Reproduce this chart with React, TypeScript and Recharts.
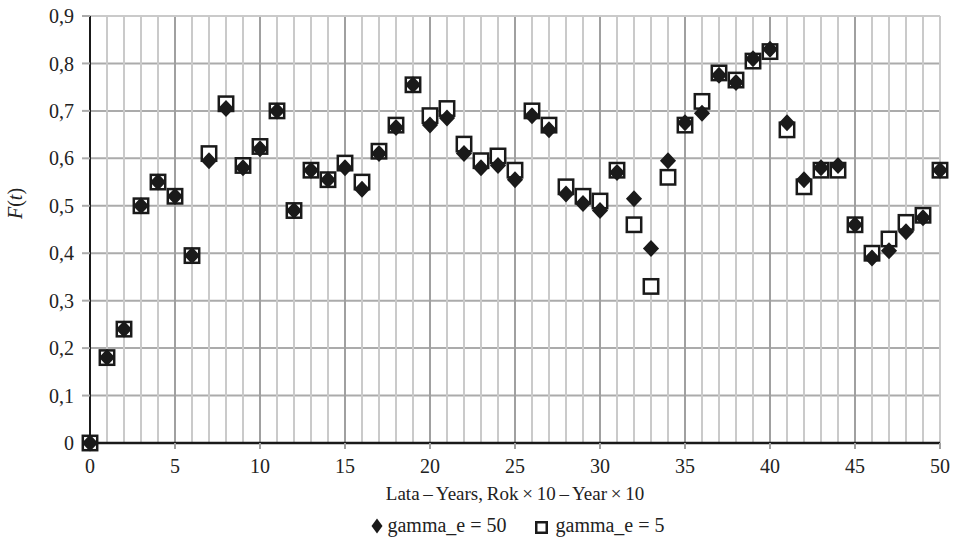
import React from "react";
import {
  ScatterChart,
  Scatter,
  XAxis,
  YAxis,
  CartesianGrid,
  ReferenceLine,
  Legend,
} from "recharts";

const years = [
  0, 1, 2, 3, 4, 5, 6, 7, 8, 9, 10, 11, 12, 13, 14, 15, 16, 17, 18, 19, 20, 21, 22, 23, 24, 25,
  26, 27, 28, 29, 30, 31, 32, 33, 34, 35, 36, 37, 38, 39, 40, 41, 42, 43, 44, 45, 46, 47, 48, 49, 50,
];

const gamma50 = [
  0, 0.18, 0.24, 0.5, 0.55, 0.52, 0.395, 0.595, 0.705, 0.58, 0.62, 0.7, 0.49, 0.575, 0.555, 0.58,
  0.535, 0.61, 0.665, 0.755, 0.67, 0.685, 0.61, 0.58, 0.585, 0.555, 0.69, 0.66, 0.525, 0.505, 0.49,
  0.57, 0.515, 0.41, 0.595, 0.675, 0.695, 0.775, 0.76, 0.81, 0.83, 0.675, 0.555, 0.58, 0.585, 0.46,
  0.39, 0.405, 0.445, 0.475, 0.575,
];

const gamma5 = [
  0, 0.18, 0.24, 0.5, 0.55, 0.52, 0.395, 0.61, 0.715, 0.585, 0.625, 0.7, 0.49, 0.575, 0.555, 0.59,
  0.55, 0.615, 0.67, 0.755, 0.69, 0.705, 0.63, 0.595, 0.605, 0.575, 0.7, 0.67, 0.54, 0.52, 0.51,
  0.575, 0.46, 0.33, 0.56, 0.67, 0.72, 0.78, 0.765, 0.805, 0.825, 0.66, 0.54, 0.575, 0.575, 0.46,
  0.4, 0.43, 0.465, 0.48, 0.575,
];

const yTicks = [0, 0.1, 0.2, 0.3, 0.4, 0.5, 0.6, 0.7, 0.8, 0.9];
const xTicks = [0, 5, 10, 15, 20, 25, 30, 35, 40, 45, 50];

const data50 = years.map((x, i) => ({ x, y: gamma50[i] }));
const data5 = years.map((x, i) => ({ x, y: gamma5[i] }));

const font = "'Liberation Serif', 'Times New Roman', serif";
const ink = "#222";

const Diamond = (props: any) => {
  const { cx, cy } = props;
  if (cx == null || cy == null) return null;
  const r = 8.5;
  return (
    <path
      d={`M${cx},${cy - r}L${cx + r * 0.95},${cy}L${cx},${cy + r}L${cx - r * 0.95},${cy}Z`}
      fill="#1a1a1a"
    />
  );
};

const Square = (props: any) => {
  const { cx, cy } = props;
  if (cx == null || cy == null) return null;
  const h = 7.2;
  return (
    <rect
      x={cx - h}
      y={cy - h}
      width={h * 2}
      height={h * 2}
      fill="#fff"
      stroke="#1a1a1a"
      strokeWidth={2.5}
    />
  );
};

const fmt = (v: number) => (v === 0 ? "0" : v.toFixed(1).replace(".", ","));

// y-axis title sits a little above the middle of the plot in the original
const YTitle = (props: any) => {
  const vb = props.viewBox || {};
  const cy = vb.y + vb.height / 2 - 26;
  return (
    <text
      x={15}
      y={cy}
      transform={`rotate(-90, 15, ${cy})`}
      textAnchor="middle"
      dominantBaseline="central"
      fill={ink}
      fontSize={20}
      fontFamily={font}
    >
      <tspan fontStyle="italic">F</tspan>(<tspan fontStyle="italic">t</tspan>)
    </text>
  );
};

const LegendBox = () => (
  <div
    style={{
      fontFamily: font,
      fontSize: 20,
      color: ink,
      textAlign: "center",
      paddingLeft: 96,
      paddingTop: 1,
      whiteSpace: "nowrap",
    }}
  >
    <svg width={12} height={16} style={{ verticalAlign: "-2px", marginRight: 4 }}>
      <path d="M6,0.5L11.5,8L6,15.5L0.5,8Z" fill="#1a1a1a" />
    </svg>
    <span style={{ marginRight: 28 }}>gamma_e = 50</span>
    <svg width={13} height={13} style={{ verticalAlign: "-2px", marginRight: 8 }}>
      <rect x={1.25} y={1.25} width={10.5} height={10.5} fill="#fff" stroke="#1a1a1a" strokeWidth={2.5} />
    </svg>
    <span>gamma_e = 5</span>
  </div>
);

export default function App() {
  return (
    <div style={{ position: "absolute", left: 0, top: 0, background: "#fff" }}>
      <ScatterChart
        width={956}
        height={542}
        margin={{ top: 16, right: 16, left: 0, bottom: 0 }}
        style={{ fontFamily: font }}
      >
        <CartesianGrid vertical={false} stroke="#ababab" strokeWidth={2} />
        {years.map((v) =>
          v % 5 === 0 ? null : (
            <ReferenceLine key={v} x={v} stroke="#cacaca" strokeWidth={2} />
          )
        )}
        {xTicks.slice(1, -1).map((v) => (
          <ReferenceLine key={"m" + v} x={v} stroke="#a0a0a0" strokeWidth={2} />
        ))}
        <ReferenceLine y={0.9} stroke="#cacaca" strokeWidth={2} />
        <ReferenceLine x={50} stroke="#cacaca" strokeWidth={2} />
        <XAxis
          type="number"
          dataKey="x"
          domain={[0, 50]}
          ticks={xTicks}
          interval={0}
          tick={{ fill: ink, fontSize: 20, fontFamily: font }}
          tickSize={6}
          tickMargin={10}
          axisLine={{ stroke: "#1a1a1a", strokeWidth: 2.5 }}
          tickLine={{ stroke: "#a0a0a0", strokeWidth: 2 }}
          height={70}
          label={{
            value: "Lata – Years, Rok × 10 – Year × 10",
            position: "insideBottom",
            offset: 13,
            fill: ink,
            fontSize: 19,
            fontFamily: font,
            style: { wordSpacing: "-1px" },
          }}
        />
        <YAxis
          type="number"
          dataKey="y"
          domain={[0, 0.9]}
          ticks={yTicks}
          interval={0}
          tickFormatter={fmt}
          tick={{ fill: ink, fontSize: 20, fontFamily: font }}
          tickSize={8}
          tickMargin={8}
          axisLine={{ stroke: "#1a1a1a", strokeWidth: 2 }}
          tickLine={{ stroke: "#ababab", strokeWidth: 2 }}
          width={90}
          label={<YTitle />}
        />
        <Legend verticalAlign="bottom" height={29} content={<LegendBox />} />
        <Scatter
          name="gamma_e = 5"
          data={data5}
          shape={<Square />}
          isAnimationActive={false}
        />
        <Scatter
          name="gamma_e = 50"
          data={data50}
          shape={<Diamond />}
          isAnimationActive={false}
        />
      </ScatterChart>
    </div>
  );
}
